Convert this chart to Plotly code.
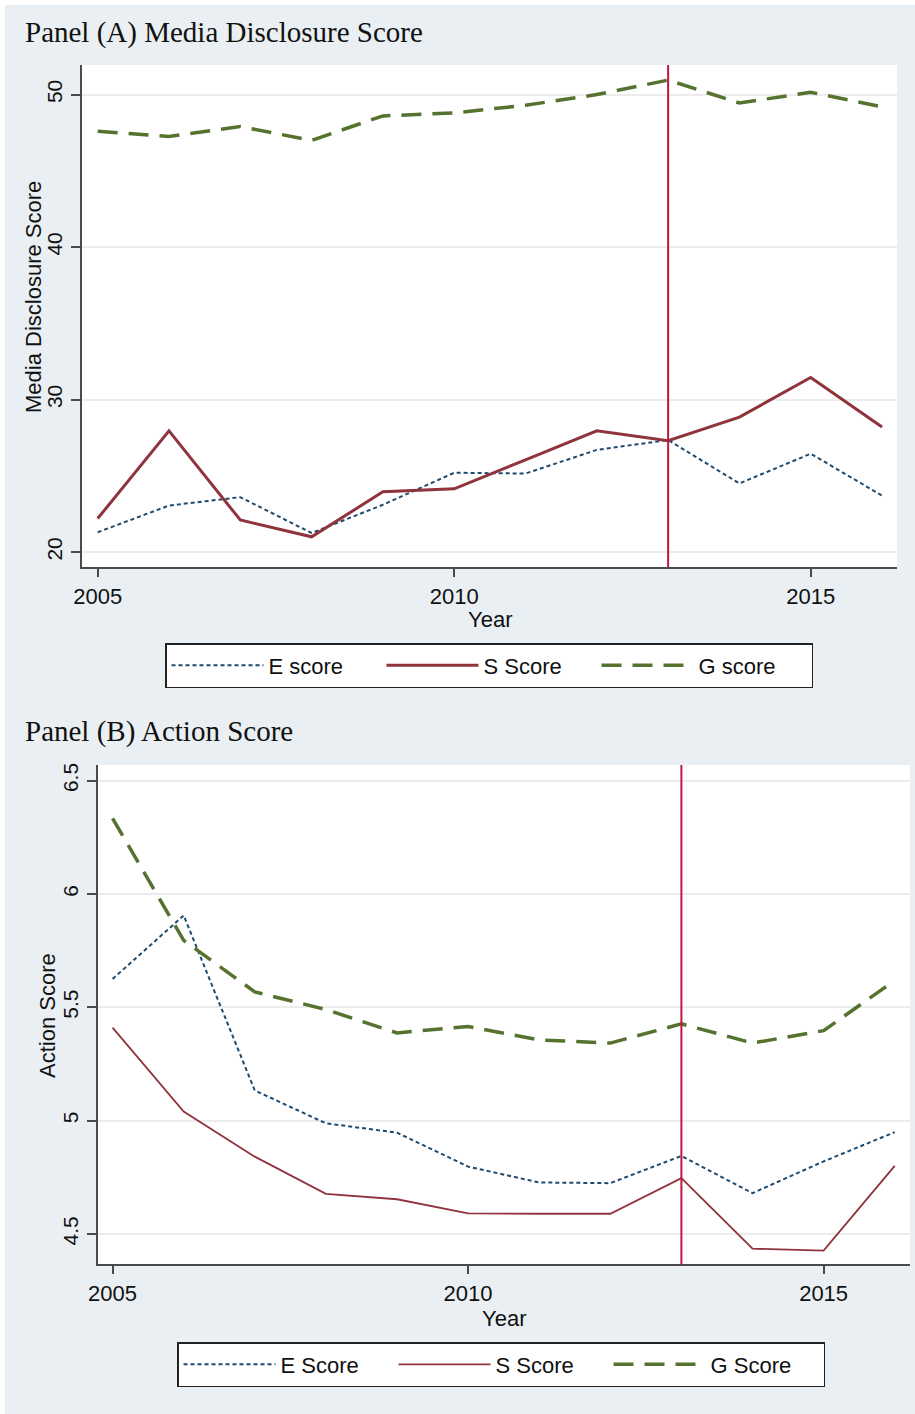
import plotly.graph_objects as go

# ---------------- data ----------------
years = [2005, 2006, 2007, 2008, 2009, 2010, 2011, 2012, 2013, 2014, 2015, 2016]

media_E = [21.3, 23.05, 23.6, 21.25, 23.1, 25.2, 25.15, 26.7, 27.35, 24.5, 26.45, 23.7]
media_S = [22.2, 27.95, 22.1, 21.0, 23.95, 24.15, 26.05, 27.95, 27.3, 28.85, 31.45, 28.2]
media_G = [47.6, 47.25, 47.9, 47.0, 48.6, 48.8, 49.3, 50.0, 50.95, 49.45, 50.15, 49.2]

action_E = [5.625, 5.905, 5.133, 4.988, 4.947, 4.797, 4.727, 4.724, 4.844, 4.68, 4.82, 4.949]
action_S = [5.41, 5.04, 4.841, 4.677, 4.653, 4.591, 4.589, 4.589, 4.746, 4.435, 4.426, 4.80]
action_G = [6.334, 5.795, 5.568, 5.49, 5.387, 5.415, 5.356, 5.342, 5.427, 5.342, 5.397, 5.618]

names_A = ["E score", "S Score", "G score"]
names_B = ["E Score", "S Score", "G Score"]

x_ticks = [2005, 2010, 2015]
yA_ticks = [20, 30, 40, 50]
yB_ticks = [4.5, 5, 5.5, 6, 6.5]
yB_ticktext = ["4.5", "5", "5.5", "6", "6.5"]

policy_year = 2013

title_A = "Panel (A) Media Disclosure Score"
title_B = "Panel (B) Action Score"
ytitle_A = "Media Disclosure Score"
ytitle_B = "Action Score"
xtitle = "Year"

# ---------------- style ----------------
W, H = 915, 1414
BG = "#e9eff2"
C_E = "#1f4a6e"
C_S = "#8f343c"
C_G = "#55722f"
C_V = "#c0173f"
AX = "#4a4a4a"
GRID = "#ececec"
SANS = "Liberation Sans, Arial, sans-serif"
SERIF = "Liberation Serif, Times New Roman, serif"


def px_x(p):
    return p / W


def px_y(p):
    return 1 - p / H


fig = go.Figure()

styles_A = [
    dict(color=C_E, width=2, dash="4px,3px"),
    dict(color=C_S, width=3, dash="solid"),
    dict(color=C_G, width=3.5, dash="20px,11px"),
]
styles_B = [
    dict(color=C_E, width=2, dash="4px,3px"),
    dict(color=C_S, width=1.8, dash="solid"),
    dict(color=C_G, width=3.5, dash="20px,11px"),
]

for name, vals, st in zip(names_A, [media_E, media_S, media_G], styles_A):
    fig.add_trace(go.Scatter(x=years, y=vals, mode="lines", name=name, line=st,
                             xaxis="x", yaxis="y", legend="legend"))
for name, vals, st in zip(names_B, [action_E, action_S, action_G], styles_B):
    fig.add_trace(go.Scatter(x=years, y=vals, mode="lines", name=name, line=st,
                             xaxis="x2", yaxis="y2", legend="legend2"))

common_x = dict(
    tickvals=x_ticks, ticks="outside", ticklen=8, tickwidth=1.5, tickcolor=AX,
    showline=True, linecolor=AX, linewidth=1.5, showgrid=False, zeroline=False,
    tickfont=dict(family=SANS, size=22, color="#111"), ticklabelstandoff=1,
)
common_y = dict(
    ticks="outside", ticklen=9, tickwidth=1.5, tickcolor=AX, tickangle=-90,
    showline=True, linecolor=AX, linewidth=1.5, showgrid=True, gridcolor=GRID,
    gridwidth=1.5, zeroline=False,
    tickfont=dict(family=SANS, size=21, color="#111"), ticklabelstandoff=1,
)

legend_common = dict(
    orientation="h", bgcolor="white", bordercolor="#222", borderwidth=1.5,
    font=dict(family=SANS, size=22, color="#111"), xanchor="left", yanchor="top",
    entrywidth=108, itemwidth=92, itemclick=False, itemdoubleclick=False,
)

fig.update_layout(
    width=W, height=H,
    margin=dict(l=0, r=0, t=0, b=0, autoexpand=False),
    paper_bgcolor=BG, plot_bgcolor="white",
    showlegend=True,
    xaxis=dict(domain=[px_x(82), px_x(897)], range=[2004.78, 2016.21], anchor="y", **common_x),
    yaxis=dict(domain=[px_y(567), px_y(65)], range=[19.02, 51.94], tickvals=yA_ticks,
               anchor="x", **common_y),
    xaxis2=dict(domain=[px_x(98), px_x(910)], range=[2004.795, 2016.215], anchor="y2", **common_x),
    yaxis2=dict(domain=[px_y(1264.3), px_y(765)], range=[4.366, 6.569], tickvals=yB_ticks,
                ticktext=yB_ticktext, anchor="x2", **common_y),
    legend=dict(x=px_x(165), y=px_y(643), **legend_common),
    legend2=dict(x=px_x(177), y=px_y(1342), **legend_common),
)

# vertical reference lines
fig.add_shape(type="line", x0=policy_year, x1=policy_year, y0=0, y1=1,
              xref="x", yref="y domain", line=dict(color=C_V, width=2))
fig.add_shape(type="line", x0=policy_year, x1=policy_year, y0=0, y1=1,
              xref="x2", yref="y2 domain", line=dict(color=C_V, width=2))

# thin white border strips (top / left) seen in the reference
fig.add_shape(type="rect", xref="paper", yref="paper", x0=0, x1=px_x(5), y0=0, y1=1,
              fillcolor="white", line=dict(width=0), layer="below")
fig.add_shape(type="rect", xref="paper", yref="paper", x0=0, x1=1, y0=px_y(5), y1=1,
              fillcolor="white", line=dict(width=0), layer="below")

ann = [
    dict(text=title_A, x=px_x(23), y=px_y(32), xanchor="left", yanchor="middle",
         font=dict(family=SERIF, size=29, color="#111")),
    dict(text=title_B, x=px_x(23), y=px_y(731), xanchor="left", yanchor="middle",
         font=dict(family=SERIF, size=29, color="#111")),
    dict(text=ytitle_A, x=px_x(33), y=px_y(297), textangle=-90, xanchor="center", yanchor="middle",
         font=dict(family=SANS, size=22, color="#111")),
    dict(text=ytitle_B, x=px_x(47), y=px_y(1016), textangle=-90, xanchor="center", yanchor="middle",
         font=dict(family=SANS, size=22, color="#111")),
    dict(text=xtitle, x=px_x(490), y=px_y(619), xanchor="center", yanchor="middle",
         font=dict(family=SANS, size=22, color="#111")),
    dict(text=xtitle, x=px_x(504), y=px_y(1318), xanchor="center", yanchor="middle",
         font=dict(family=SANS, size=22, color="#111")),
]
for a in ann:
    fig.add_annotation(xref="paper", yref="paper", showarrow=False, **a)

fig.write_html(
    "out.html",
    config={"displayModeBar": False},
    post_script="document.body.style.margin='0px'; document.body.style.overflow='hidden';",
)
